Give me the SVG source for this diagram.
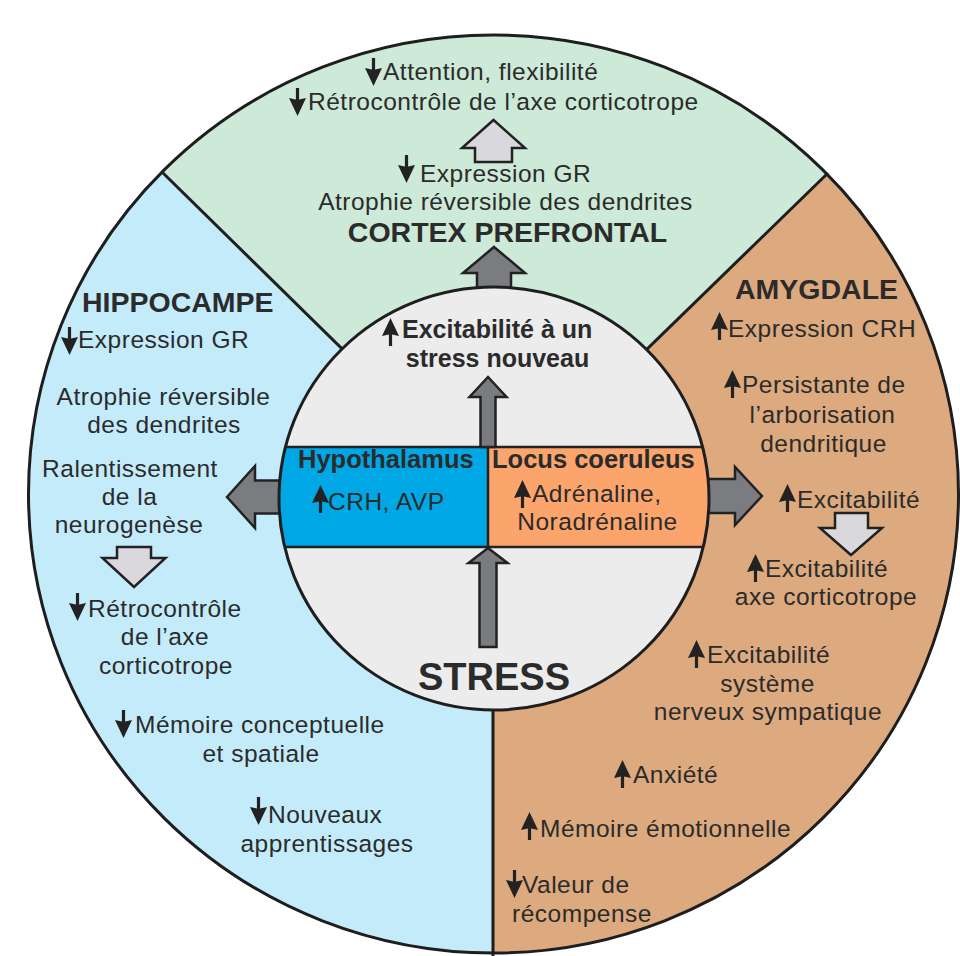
<svg xmlns="http://www.w3.org/2000/svg" xmlns:xlink="http://www.w3.org/1999/xlink" width="960" height="956" viewBox="0 0 960 956">
<defs>
<style>
text{font-family:"Liberation Sans",Arial,sans-serif;fill:#2b2b2b}
.r{font-size:24.5px;letter-spacing:0.5px}
.m{text-anchor:middle}
.h{font-size:28.5px;font-weight:bold}
.b{font-size:25.5px;font-weight:bold}
.bs{font-size:25px;font-weight:bold}
.dk{fill:#7b7c80;stroke:#222;stroke-width:2.5;stroke-linejoin:miter}
.lt{fill:#d9d9dd;stroke:#222;stroke-width:2.5;stroke-linejoin:miter}
.ln{stroke:#1e1e1e;stroke-width:3;fill:none}
</style>
<symbol id="up" viewBox="0 0 17 28"><path d="M8.5,0 L17,18 L10.1,16.5 L10.1,28 L6.9,28 L6.9,16.5 L0,18 Z" fill="#222"/></symbol>
<symbol id="dn" viewBox="0 0 17 28"><path d="M8.5,28 L17,10 L10.1,11.5 L10.1,0 L6.9,0 L6.9,11.5 L0,10 Z" fill="#222"/></symbol>
<clipPath id="outer"><ellipse cx="493.5" cy="494" rx="465" ry="459"/></clipPath>
<clipPath id="inner"><ellipse cx="494" cy="498.5" rx="215" ry="211.5"/></clipPath>
</defs>
<rect width="960" height="956" fill="#fff"/>

<g id="sectors" clip-path="url(#outer)">
<polygon points="494,498 -168,-152 -200,1100 493,1100" fill="#c4ebfa"/>
<polygon points="494,498 -168,-152 1162,-152" fill="#cde9d7"/>
<polygon points="494,498 1162,-152 1200,1100 493,1100" fill="#dcaa7e"/>
</g>
<g id="borders">
<ellipse class="ln" cx="493.5" cy="494" rx="465" ry="459"/>
<line class="ln" x1="494" y1="498" x2="163" y2="173"/>
<line class="ln" x1="494" y1="498" x2="828" y2="173"/>
<line class="ln" x1="493" y1="600" x2="493" y2="956"/>
</g>

<g id="connectors">
<path class="lt" d="M493.5,120 L525,148 L512,148 L512,162 L475,162 L475,148 L462,148 Z"/>
<path class="dk" d="M494,247 L525,273 L511,273 L511,298 L477,298 L477,273 L463,273 Z"/>
<path class="dk" d="M227,497 L255,466 L255,480.5 L292,480.5 L292,513.5 L255,513.5 L255,528 Z"/>
<path class="dk" d="M762,496 L735,467 L735,479 L698,479 L698,513 L735,513 L735,525 Z"/>
<path class="lt" d="M134,587 L165.5,558 L151,558 L151,547 L117,547 L117,558 L102.5,558 Z"/>
<path class="lt" d="M851,555 L882,528 L868,528 L868,513 L835,513 L835,528 L820,528 Z"/>
</g>

<g id="center">
<ellipse cx="494" cy="498.5" rx="215" ry="211.5" fill="#ececec"/>
<g clip-path="url(#inner)">
<rect x="270" y="447" width="218" height="100" fill="#00a7e5"/>
<rect x="488" y="447" width="230" height="100" fill="#fba56c"/>
<line x1="270" y1="447" x2="720" y2="447" stroke="#222" stroke-width="2.5"/>
<line x1="270" y1="547" x2="720" y2="547" stroke="#222" stroke-width="2.5"/>
<line x1="488" y1="447" x2="488" y2="547" stroke="#222" stroke-width="2.5"/>
</g>
<ellipse class="ln" cx="494" cy="498.5" rx="215" ry="211.5"/>
<path class="dk" d="M488,377 L506.5,397 L495.5,397 L495.5,447 L480.5,447 L480.5,397 L469.5,397 Z"/>
<path class="dk" d="M488,548 L507.5,563 L496.5,563 L496.5,647 L479.5,647 L479.5,563 L468.5,563 Z"/>
<use href="#up" x="382" y="318" width="17" height="28"/>
<text class="bs" x="402" y="338">Excitabilité à un</text>
<text class="bs m" x="497.5" y="367">stress nouveau</text>
<g id="hypothalamus">
<text class="b" x="298" y="468">Hypothalamus</text>
<use href="#up" x="312" y="485" width="17" height="28"/>
<text class="r" x="328" y="510">CRH, AVP</text>
</g>
<g id="locus">
<text class="b" x="492" y="468">Locus coeruleus</text>
<use href="#up" x="514" y="480" width="17" height="28"/>
<text class="r" x="532" y="502">Adrénaline,</text>
<text class="r m" x="597.5" y="530">Noradrénaline</text>
</g>
<text x="494" y="690" class="m" style="font-size:38px;font-weight:bold">STRESS</text>
</g>

<g id="cortex">
<use href="#dn" x="365" y="58" width="17" height="28"/>
<text class="r" x="383" y="80">Attention, flexibilité</text>
<use href="#dn" x="289" y="88" width="17" height="28"/>
<text class="r" x="308" y="110">Rétrocontrôle de l’axe corticotrope</text>
<use href="#dn" x="398" y="155" width="17" height="28"/>
<text class="r" x="420" y="182">Expression GR</text>
<text class="r m" x="505.5" y="210">Atrophie réversible des dendrites</text>
<text class="h m" x="507.5" y="242">CORTEX PREFRONTAL</text>
</g>

<g id="hippocampe">
<text class="h" x="82" y="312">HIPPOCAMPE</text>
<use href="#dn" x="61" y="327" width="17" height="28"/>
<text class="r" x="78" y="348">Expression GR</text>
<text class="r m" x="163.5" y="405">Atrophie réversible</text>
<text class="r m" x="164" y="433">des dendrites</text>
<text class="r m" x="130" y="477">Ralentissement</text>
<text class="r m" x="129.5" y="505">de la</text>
<text class="r m" x="129" y="533">neurogenèse</text>
<use href="#dn" x="69" y="593" width="17" height="28"/>
<text class="r" x="88" y="617">Rétrocontrôle</text>
<text class="r m" x="165" y="645">de l’axe</text>
<text class="r m" x="166" y="674">corticotrope</text>
<use href="#dn" x="115" y="710" width="17" height="28"/>
<text class="r" x="135" y="733">Mémoire conceptuelle</text>
<text class="r m" x="261" y="762">et spatiale</text>
<use href="#dn" x="250" y="797" width="17" height="28"/>
<text class="r" x="268" y="823">Nouveaux</text>
<text class="r m" x="327" y="852">apprentissages</text>
</g>

<g id="amygdale">
<text class="h" x="735" y="299">AMYGDALE</text>
<use href="#up" x="711" y="312" width="17" height="28"/>
<text class="r" x="728" y="337">Expression CRH</text>
<use href="#up" x="724" y="370" width="17" height="28"/>
<text class="r" x="742" y="393">Persistante de</text>
<text class="r m" x="822.5" y="423">l’arborisation</text>
<text class="r m" x="823.5" y="452">dendritique</text>
<use href="#up" x="779" y="484" width="17" height="28"/>
<text class="r" x="797" y="508">Excitabilité</text>
<use href="#up" x="747" y="554" width="17" height="28"/>
<text class="r" x="765" y="577">Excitabilité</text>
<text class="r m" x="826" y="605">axe corticotrope</text>
<use href="#up" x="688" y="640" width="17" height="28"/>
<text class="r" x="707" y="663">Excitabilité</text>
<text class="r m" x="767.5" y="692">système</text>
<text class="r m" x="768" y="720">nerveux sympatique</text>
<use href="#up" x="614" y="760" width="17" height="28"/>
<text class="r" x="633" y="783">Anxiété</text>
<use href="#up" x="521" y="812" width="17" height="28"/>
<text class="r" x="540" y="837">Mémoire émotionnelle</text>
<use href="#dn" x="506" y="870" width="17" height="28"/>
<text class="r" x="522" y="893">Valeur de</text>
<text class="r m" x="582" y="922">récompense</text>
</g>
</svg>
